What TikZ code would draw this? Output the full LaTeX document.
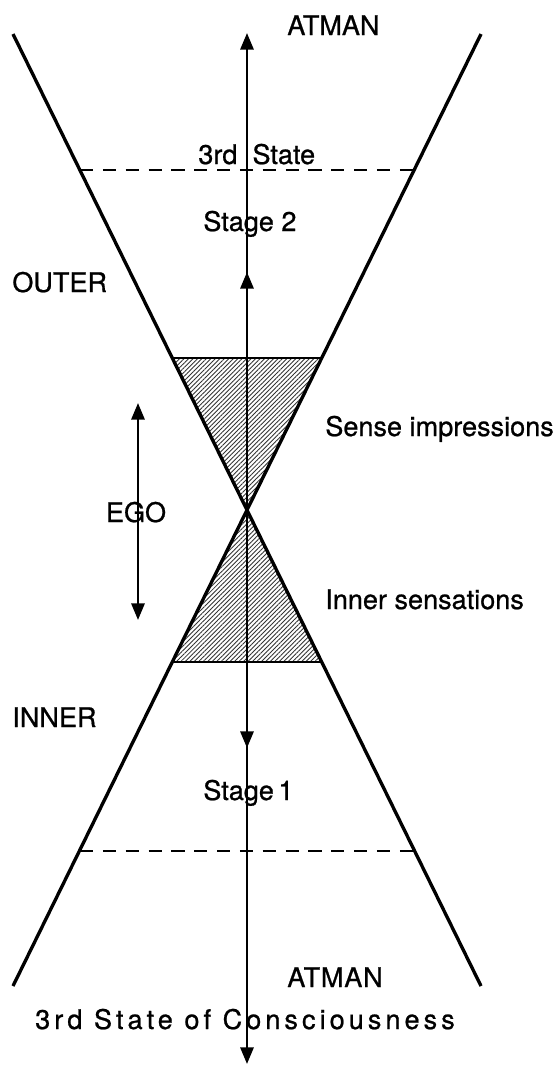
\documentclass[tikz,border=0pt]{standalone}
\usepackage{fontspec}
\setmainfont{TeX Gyre Heros}[FakeBold=0.8]
\usetikzlibrary{arrows.meta, patterns.meta}

\begin{document}
\begin{tikzpicture}[
        x=0.02cm, y=-0.02cm,
        font=\fontsize{15.4}{18}\selectfont,
        edge/.style = {line width=1.9pt},
        axis/.style = {line width=1.5pt},
        level/.style = {line width=1.5pt, dash pattern=on 7.5pt off 5.5pt},
        tip/.style = {-{Triangle[length=9.5pt, width=7.5pt]}},
        arrow/.style = {axis, tip},
        hatch/.style = {pattern={Lines[angle=45, distance=1.8pt, line width=0.5pt]}, pattern color=black!80},
        label/.style = {inner sep=0pt, anchor=base west}
    ]
        \useasboundingbox (0,0) rectangle (558,1066);

        % Cone points
        \coordinate (c) at (247,510);
        \coordinate (tl) at (13,34);
        \coordinate (tr) at (481,34);
        \coordinate (bl) at (13,986);
        \coordinate (br) at (481,986);
        \coordinate (hl1) at (172,358);
        \coordinate (hr1) at (322,358);
        \coordinate (hl2) at (172,662);
        \coordinate (hr2) at (322,662);
        \coordinate (dl1) at (80,170);
        \coordinate (dr1) at (414,170);
        \coordinate (dl2) at (80,851);
        \coordinate (dr2) at (414,851);

        % Hatched zones
        \fill [hatch] (hl1) -- (hr1) -- (c) -- cycle;
        \fill [hatch] (hl2) -- (hr2) -- (c) -- cycle;
        \draw [axis] (hl1) -- (hr1);
        \draw [axis] (hl2) -- (hr2);

        % Cone lines
        \draw [edge] (tl) -- (br);
        \draw [edge] (tr) -- (bl);

        % Levels
        \draw [level] (dl1) -- (dr1);
        \draw [level] (dl2) -- (dr2);

        % Axis
        \coordinate (top) at (247,33);
        \coordinate (bot) at (247,1064);
        \coordinate (up) at (247,272);
        \coordinate (down) at (247,748);
        \draw [axis, {Triangle[length=9.5pt, width=7.5pt]}-{Triangle[length=9.5pt, width=7.5pt]}] (bot) -- (top);
        \draw [arrow] (c) -- (up);
        \draw [arrow] (c) -- (down);

        % Labels
        \node (atman1) [label] at (287,35) {ATMAN};
        \node (state) [label] at (198,164) {3rd\ \ State};
        \node (stage2) [label] at (203,231) {Stage 2};
        \node (outer) [label] at (12,292) {OUTER};
        \node (sense) [label] at (325,436) {Sense impressions};
        \node (ego) [inner sep=0pt, anchor=base] at (136,522) {EGO};
        \node (inner) [label] at (325,609) {Inner sensations};
        \node (innerlbl) [label] at (12,727) {INNER};
        \node (stage1) [label] at (203,800) {Stage\,1};
        \node (atman2) [label] at (287,987) {\addfontfeature{LetterSpace=3}ATMAN};
        \node (conscious) [inner sep=0pt, anchor=base] at (245,1029) {\addfontfeature{LetterSpace=15}3rd State of Consciousness};

        % EGO arrows
        \coordinate (egoup) at (138,403);
        \coordinate (egodown) at (138,620);
        \draw [arrow] ([yshift=-0.2cm]ego.north -| egoup) -- (egoup);
        \draw [arrow] ([yshift=0.4cm]ego.south -| egodown) -- (egodown);

    \end{tikzpicture}
\end{document}
